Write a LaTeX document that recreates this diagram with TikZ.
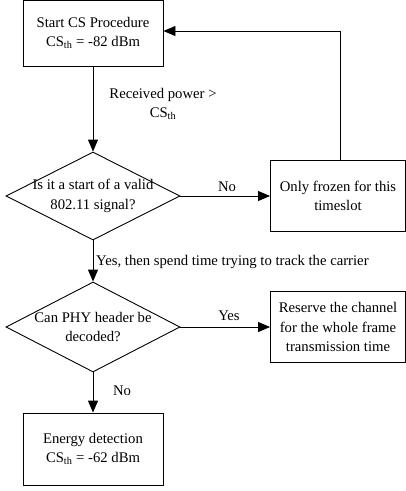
\documentclass[tikz,border=0pt]{standalone}
\usepackage{fontspec}
\setmainfont{Liberation Serif}
\usetikzlibrary{arrows.meta,shapes.geometric}
\begin{document}
\begin{tikzpicture}[x=1pt,y=-1pt,
  every node/.style={font=\fontsize{14.7}{19.5}\selectfont},
  boxnode/.style={draw,line width=0.9pt,align=center,inner sep=0pt},
  decision/.style={draw,line width=0.9pt,shape=diamond,aspect=2,inner sep=0pt},
  flow/.style={line width=0.9pt,-{Triangle[length=12pt,width=10pt]}},
  lbl/.style={align=center,inner sep=1pt}]
\useasboundingbox (0,0) rectangle (406,491);
\node[boxnode,minimum width=140pt,minimum height=66pt] (start) at (93,33) {Start CS Procedure\\CS\textsubscript{th} = -82 dBm};
\node[decision,minimum width=174pt,minimum height=88pt] (d1) at (93,196) {};
\node[lbl] at (93,196) {Is it a start of a valid\\802.11 signal?};
\node[boxnode,minimum width=135pt,minimum height=71pt] (frozen) at (338,196) {Only frozen for this\\timeslot};
\node[decision,minimum width=174pt,minimum height=90pt] (d2) at (93,327) {};
\node[lbl] at (93,327) {Can PHY header be\\decoded?};
\node[boxnode,minimum width=135pt,minimum height=71pt] (reserve) at (338,327) {Reserve the channel\\for the whole frame\\transmission time};
\node[boxnode,minimum width=140pt,minimum height=72pt] (energy) at (93,449) {Energy detection\\CS\textsubscript{th} = -62 dBm};
\coordinate (corner) at (340,31);
\draw[flow] (start.south) -- (d1.north);
\draw[flow] (d1.east) -- (frozen.west);
\draw[flow] (frozen.north -| corner) -- (corner) -- (corner -| start.east);
\draw[flow] (d1.south) -- (d2.north);
\draw[flow] (d2.east) -- (reserve.west);
\draw[flow] (d2.south) -- (energy.north);
\node[lbl] at (163,104) {Received power >\\CS\textsubscript{th}};
\node[lbl] at (227,187) {No};
\node[lbl,anchor=west] at (95,262) {Yes, then spend time trying to track the carrier};
\node[lbl] at (229,316) {Yes};
\node[lbl] at (122,391) {No};
\end{tikzpicture}
\end{document}
